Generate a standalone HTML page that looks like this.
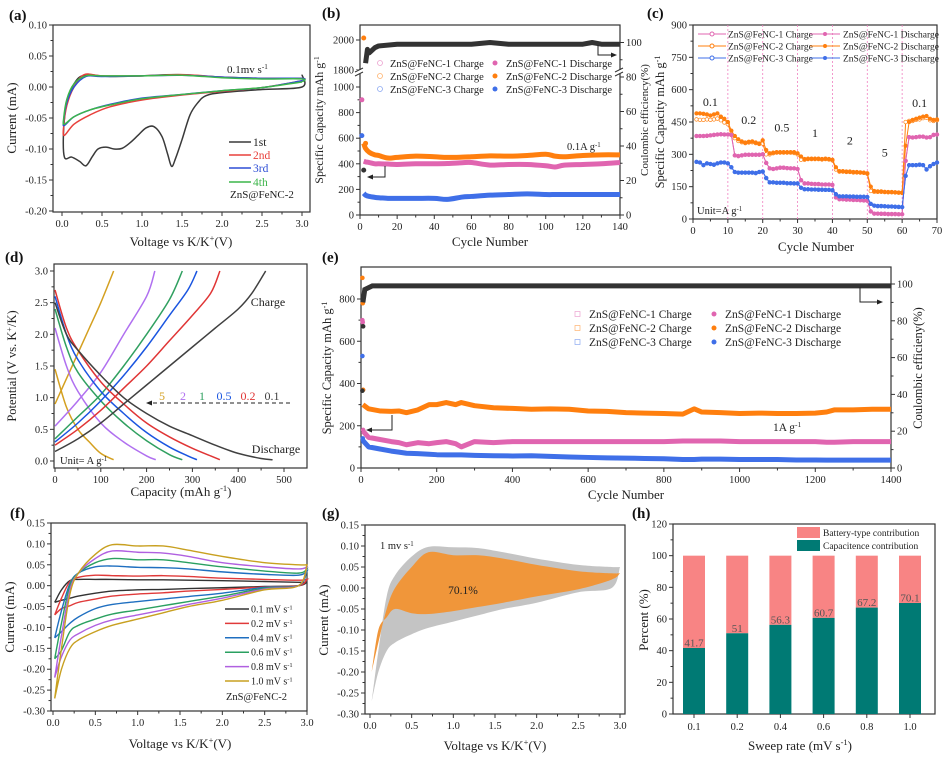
<!DOCTYPE html>
<html><head><meta charset="utf-8"><title>ZnS@FeNC electrochemistry figure</title>
<style>
html,body{margin:0;padding:0;background:#fff;}
svg{display:block;font-family:"Liberation Serif",serif;}
</style></head>
<body>
<svg id="fig" width="942" height="757" viewBox="0 0 942 757" xmlns="http://www.w3.org/2000/svg"></svg>
<script>
// ---------------- DATA ----------------
const aCycle1=[[3.0,0.02],[3.0,0.0],[2.5,-0.004],[2.0,-0.009],[1.8,-0.014],[1.7,-0.025],[1.6,-0.045],[1.5,-0.085],[1.42,-0.115],[1.37,-0.128],[1.32,-0.108],[1.25,-0.08],[1.15,-0.064],[1.05,-0.066],[0.95,-0.078],[0.85,-0.09],[0.75,-0.099],[0.65,-0.1],[0.55,-0.097],[0.45,-0.1],[0.38,-0.112],[0.3,-0.127],[0.22,-0.12],[0.12,-0.113],[0.03,-0.113],[0.02,-0.07],[0.06,-0.025],[0.15,0.005],[0.28,0.019],[0.6,0.017],[1.0,0.018],[1.45,0.02],[2.0,0.016],[2.5,0.014],[3.0,0.014]];
const aCycle2=[[3.0,0.01],[2.5,-0.001],[2.0,-0.007],[1.5,-0.013],[1.0,-0.021],[0.6,-0.032],[0.35,-0.045],[0.15,-0.06],[0.03,-0.078],[0.02,-0.065],[0.06,-0.03],[0.15,0.0],[0.28,0.02],[0.5,0.018],[1.0,0.018],[1.5,0.02],[2.0,0.016],[2.5,0.014],[3.0,0.014],[3.0,0.01]];
const aCycle3=[[3.0,0.01],[2.5,-0.001],[2.0,-0.006],[1.5,-0.012],[1.0,-0.018],[0.6,-0.028],[0.35,-0.037],[0.15,-0.048],[0.03,-0.062],[0.02,-0.055],[0.06,-0.025],[0.15,0.0],[0.3,0.017],[0.5,0.017],[1.0,0.018],[1.5,0.019],[2.0,0.016],[2.5,0.014],[3.0,0.014],[3.0,0.01]];
const aCycle4=[[3.0,0.008],[2.5,-0.001],[2.0,-0.006],[1.5,-0.012],[1.0,-0.019],[0.6,-0.029],[0.35,-0.037],[0.15,-0.048],[0.03,-0.06],[0.02,-0.052],[0.06,-0.02],[0.15,0.005],[0.3,0.018],[0.5,0.018],[1.0,0.018],[1.5,0.019],[2.0,0.015],[2.5,0.013],[3.0,0.013],[3.0,0.008]];

const bCycles=[2,3,5,8,10,15,20,30,40,47,55,60,70,80,90,100,105,110,120,130,140];
const bOrange=[560,520,490,470,465,445,450,460,455,450,452,455,462,460,465,475,460,455,465,470,470];
const bPink=[420,415,410,400,400,398,395,400,400,402,408,410,390,395,395,385,375,390,395,400,410];
const bBlue=[170,155,145,138,135,130,130,130,130,122,140,145,155,160,165,160,160,160,160,160,160];
const bCECycles=[2,3,4,5,8,10,20,40,60,70,80,100,120,125,130,140];
const bCE=[26,88,96,94,97,98,99,99,99,100,99,99,99,100,99,99];

const cOrangeD=[490,490,488,485,480,485,490,475,465,450,410,385,370,360,355,358,360,355,350,365,320,305,308,310,310,310,310,310,310,305,290,278,280,280,280,280,278,280,278,275,240,222,222,220,220,218,218,216,215,212,150,130,128,128,126,125,125,124,123,122,340,450,460,465,470,475,478,465,460,462];
const cOrangeC=[462,460,460,462,460,462,466,458,448,440,395,375,362,356,352,355,356,352,348,350,300,300,305,308,308,308,308,308,306,300,275,275,278,278,278,278,276,278,276,272,230,220,220,218,218,216,216,215,214,210,130,126,126,126,125,124,124,123,122,121,450,455,455,460,462,468,470,458,455,458];
const cPinkD=[385,385,385,386,388,390,392,393,392,392,390,295,292,295,298,298,298,298,298,300,260,235,232,235,238,238,236,235,235,232,180,165,165,163,162,162,160,160,160,158,100,92,92,90,90,88,88,87,86,85,35,25,25,24,24,23,23,23,22,22,270,380,378,380,382,382,378,380,390,392];
const cBlueD=[265,262,250,258,255,252,258,262,262,258,240,218,215,215,215,215,215,213,218,220,190,170,170,168,168,168,166,166,165,165,145,138,138,137,137,136,136,135,135,133,115,105,105,105,104,104,103,103,103,102,70,62,60,60,59,58,58,57,56,55,200,250,250,250,252,250,230,245,255,262];
const cRateLabels=["0.1","0.2","0.5","1","2","5","0.1"];
const cRateCycles=[5,16,25.5,35,45,55,65];
const cRateValues=[525,440,405,380,345,290,520];

const dRates=["5","2","1","0.5","0.2","0.1"];
const dCharge=[
 [[0,0.9],[25,1.3],[50,1.7],[75,2.1],[100,2.5],[128,3.0]],
 [[0,0.55],[50,0.95],[100,1.4],[150,2.0],[200,2.6],[218,3.0]],
 [[0,0.35],[50,0.7],[100,1.05],[150,1.5],[200,2.0],[250,2.55],[278,3.0]],
 [[0,0.3],[50,0.6],[100,0.95],[150,1.35],[200,1.8],[250,2.3],[290,2.7],[310,3.0]],
 [[0,0.25],[50,0.5],[100,0.8],[150,1.15],[200,1.5],[250,1.9],[300,2.3],[340,2.65],[360,3.0]],
 [[0,0.15],[50,0.35],[100,0.6],[150,0.9],[200,1.2],[250,1.5],[300,1.8],[350,2.1],[400,2.4],[430,2.65],[460,3.0]]];
const dDischarge=[
 [[0,1.45],[25,0.85],[50,0.5],[75,0.3],[100,0.12],[128,0.02]],
 [[0,2.1],[25,1.5],[50,1.1],[100,0.6],[150,0.3],[200,0.08],[220,0.02]],
 [[0,2.4],[25,1.8],[50,1.4],[100,0.95],[150,0.6],[200,0.32],[250,0.1],[278,0.02]],
 [[0,2.6],[25,2.0],[50,1.6],[100,1.1],[150,0.75],[200,0.45],[250,0.22],[290,0.08],[310,0.02]],
 [[0,2.7],[25,2.1],[50,1.75],[100,1.25],[150,0.9],[200,0.6],[250,0.38],[300,0.2],[340,0.08],[360,0.02]],
 [[0,2.5],[25,2.0],[50,1.75],[100,1.35],[150,1.0],[200,0.75],[250,0.55],[300,0.4],[350,0.25],[400,0.12],[450,0.04],[475,0.02]]];

const eCycles=[5,20,50,80,100,120,150,180,200,225,250,265,300,350,400,450,500,550,600,650,700,750,800,850,880,900,950,1000,1050,1100,1150,1200,1230,1250,1300,1350,1400];
const eOrange=[300,280,270,268,270,262,275,300,300,310,300,310,295,285,282,278,280,278,270,268,262,260,258,255,280,265,262,258,260,258,258,260,265,275,275,278,278];
const ePink=[175,145,135,125,120,110,120,115,120,125,115,100,125,120,125,125,125,125,125,125,125,125,125,128,128,128,128,125,125,125,125,125,122,122,125,125,125];
const eBlue=[130,100,90,80,75,70,68,65,63,62,62,62,60,58,57,58,55,52,50,48,47,45,44,40,40,42,42,40,40,40,38,38,37,37,37,37,37];
const eEarlyCycles=[1,2,3];
const eEarlyOrange=[900,780,370];
const eEarlyPink=[700,690,180];
const eEarlyBlue=[530,140,130];
const eCECycles=[1,3,5,10,30,100,200,300,400,500,600,700,800,900,1000,1100,1200,1300,1400];
const eCE=[42,77,90,97,99,99,99,99,99,99,99,99,99,99,99,99,99,99,99];

const fV=[0.02,0.1,0.2,0.3,0.5,0.7,1.0,1.3,1.6,2.0,2.5,2.9,3.0];
const fRates=["0.1","0.2","0.4","0.6","0.8","1.0"];
const fUpper=[
 [-0.04,-0.01,0.012,0.015,0.015,0.015,0.014,0.014,0.013,0.012,0.01,0.008,0.008],
 [-0.07,-0.03,0.01,0.02,0.025,0.024,0.023,0.024,0.022,0.018,0.015,0.013,0.015],
 [-0.125,-0.06,0.005,0.03,0.045,0.047,0.044,0.043,0.04,0.033,0.027,0.025,0.035],
 [-0.175,-0.09,0.0,0.03,0.055,0.065,0.062,0.062,0.055,0.045,0.035,0.03,0.04],
 [-0.22,-0.12,-0.01,0.03,0.065,0.083,0.08,0.078,0.07,0.055,0.045,0.04,0.045],
 [-0.27,-0.15,-0.02,0.03,0.075,0.098,0.095,0.095,0.085,0.07,0.055,0.05,0.05]];
const fLower=[
 [-0.04,-0.035,-0.03,-0.025,-0.018,-0.013,-0.01,-0.009,-0.007,-0.005,-0.002,0.0,0.008],
 [-0.07,-0.055,-0.048,-0.04,-0.032,-0.025,-0.02,-0.017,-0.013,-0.009,-0.003,0.0,0.015],
 [-0.125,-0.11,-0.09,-0.075,-0.055,-0.045,-0.038,-0.032,-0.026,-0.018,-0.004,0.0,0.035],
 [-0.175,-0.155,-0.11,-0.095,-0.08,-0.068,-0.058,-0.048,-0.038,-0.025,-0.006,0.0,0.04],
 [-0.22,-0.17,-0.13,-0.115,-0.095,-0.082,-0.07,-0.058,-0.045,-0.03,-0.008,0.0,0.045],
 [-0.27,-0.2,-0.15,-0.13,-0.11,-0.095,-0.08,-0.065,-0.05,-0.035,-0.01,0.0,0.05]];

const gTotalUpper=[-0.27,-0.15,-0.02,0.03,0.075,0.098,0.097,0.095,0.085,0.07,0.055,0.05,0.05];
const gTotalLower=[-0.27,-0.2,-0.15,-0.13,-0.11,-0.095,-0.08,-0.065,-0.05,-0.035,-0.01,0.0,0.05];
const gCapUpper=[-0.2,-0.13,-0.05,0.0,0.05,0.085,0.078,0.078,0.07,0.055,0.04,0.035,0.035];
const gCapLower=[-0.2,-0.1,-0.07,-0.05,-0.06,-0.062,-0.055,-0.045,-0.035,-0.02,-0.003,0.02,0.035];

const hRates=["0.1","0.2","0.4","0.6","0.8","1.0"];
const hCap=[41.7,51,56.3,60.7,67.2,70.1];
const hCapLabels=["41.7","51","56.3","60.7","67.2","70.1"];

// ---------------- HELPERS ----------------
const NS='http://www.w3.org/2000/svg';
const svg=document.getElementById('fig');
function mk(tag,attrs,parent){const e=document.createElementNS(NS,tag);for(const k in attrs)e.setAttribute(k,attrs[k]);(parent||svg).appendChild(e);return e;}
function lin(d0,d1,r0,r1){return v=>r0+(v-d0)*(r1-r0)/(d1-d0);}
function rich(t,str){
  const re=/\^\{([^}]*)\}/g;let last=0,m;
  while((m=re.exec(str))){
    if(m.index>last){const s=mk('tspan',{},t);s.textContent=str.slice(last,m.index);}
    const s=mk('tspan',{'baseline-shift':'super','font-size':'65%'},t);s.textContent=m[1];
    last=re.lastIndex;
  }
  if(last<str.length){const s=mk('tspan',{},t);s.textContent=str.slice(last);}
}
function txt(p,x,y,str,size,anchor,rot,fill,weight){
  const a={x:x,y:y,'font-size':size,'text-anchor':anchor||'start',fill:fill||'#222'};
  if(rot)a.transform='rotate('+rot+' '+x+' '+y+')';
  if(weight)a['font-weight']=weight;
  const t=mk('text',a,p);rich(t,str);return t;
}
function smooth(pts){
  if(pts.length<3)return 'M'+pts.map(p=>p.join(',')).join('L');
  let d='M'+pts[0][0]+','+pts[0][1];
  for(let i=0;i<pts.length-1;i++){
    const p0=pts[i-1]||pts[i],p1=pts[i],p2=pts[i+1],p3=pts[i+2]||p2;
    const c1=[p1[0]+(p2[0]-p0[0])/6,p1[1]+(p2[1]-p0[1])/6];
    const c2=[p2[0]-(p3[0]-p1[0])/6,p2[1]-(p3[1]-p1[1])/6];
    d+='C'+c1.join(',')+' '+c2.join(',')+' '+p2.join(',');
  }
  return d;
}
function frame(p,x0,y0,x1,y1){
  const r=mk('rect',{x:x0,y:y0,width:x1-x0,height:y1-y0,fill:'none',stroke:'#333','stroke-width':1.2},p);
  
  
}
function yTicks(p,sy,vals,x,fmt,side,minor){
  const dir=side==='right'?1:-1;
  vals.forEach((v,i)=>{
    const y=sy(v);
    mk('line',{x1:x,x2:x+dir*4,y1:y,y2:y,stroke:'#333','stroke-width':1},p);
    const t=txt(p,x+dir*6,y+3.5,fmt(v),10.5,side==='right'?'start':'end');
    
    
    if(minor&&i<vals.length-1){const ym=sy((v+vals[i+1])/2);mk('line',{x1:x,x2:x+dir*2.5,y1:ym,y2:ym,stroke:'#333'},p);}
  });
}
function xTicks(p,sx,vals,y,fmt,minor){
  vals.forEach((v,i)=>{
    const x=sx(v);
    mk('line',{x1:x,x2:x,y1:y,y2:y+4,stroke:'#333','stroke-width':1},p);
    const t=txt(p,x,y+15,fmt(v),10.5,'middle');
    
    
    if(minor&&i<vals.length-1){const xm=sx((v+vals[i+1])/2);mk('line',{x1:xm,x2:xm,y1:y,y2:y+2.5,stroke:'#333'},p);}
  });
}
function range(a,b,s){const r=[];for(let v=a;v<=b+1e-9;v+=s)r.push(+v.toFixed(4));return r;}
const f2=v=>v.toFixed(2), f1=v=>v.toFixed(1), f0=v=>String(Math.round(v));
function group(name){const g=mk('g',{});return g;}
function panelLabel(p,x,y,s){const t=txt(p,x,y,s,15,'start',0,'#111','bold');}
function yTitle(p,x,y,s,size){const t=txt(p,x,y,s,size||13,'middle',-90);return t;}
function xTitle(p,x,y,s,size){const t=txt(p,x,y,s,size||13,'middle');return t;}
function arrowHead(p,x,y,dir){
  const d=dir==='left'?`M${x},${y}l6,-2.5v5z`:`M${x},${y}l-6,-2.5v5z`;
  mk('path',{d:d,fill:'#222'},p);
}

// ---------------- (a) ----------------
(function(){
  const g=group('panel-a-cv-cycles');
  const sx=lin(0,3,62,302), sy=lin(-0.2,0.1,211,25);
  frame(g,53,25,310,212);
  yTicks(g,sy,range(-0.2,0.1,0.05),53,f2,'left',true);
  xTicks(g,sx,range(0,3,0.5),212,f1,true);
  const series=[[aCycle1,'#3a3a3a','1st'],[aCycle2,'#e8413c','2nd'],[aCycle3,'#2f4fd6','3rd'],[aCycle4,'#3cb54a','4th']];
  series.forEach((s,i)=>{
    const path=mk('path',{d:smooth(s[0].map(p=>[sx(p[0]),sy(p[1])])),fill:'none',stroke:s[1],'stroke-width':1.5},g);
    
    
    const ly=[142,155,168,182][i];
    const ll=mk('line',{x1:229,x2:251,y1:ly,y2:ly,stroke:s[1],'stroke-width':1.6},g);
    
    
    const lt=txt(g,253,ly+4,s[2],11.5,'start',0,i===0?'#222':s[1]);
    
    
  });
  const n=txt(g,230,198,'ZnS@FeNC-2',11);
  const r=txt(g,227,73,'0.1mv s^{-1}',11);
  yTitle(g,16,118,'Current (mA)');
  xTitle(g,181,246,'Voltage vs K/K^{+}(V)');
  panelLabel(g,9,20,'(a)');
})();

// ---------------- (b) ----------------
(function(){
  const g=group('panel-b-cycling');
  const sx=lin(0,140,360,620), sy=lin(0,1000,215,87), sy2=lin(1800,2000,70,40), syr=lin(0,100,215,42.5);
  frame(g,360,25,620,215);
  yTicks(g,sy,range(0,1000,200),360,f0,'left',true);
  yTicks(g,sy2,[1800,2000],360,f0,'left',false);
  yTicks(g,syr,range(0,100,20),620,f0,'right',true);
  xTicks(g,sx,range(0,140,20),215,f0,true);
  [360,620].forEach(x=>{
    mk('rect',{x:x-4,y:70,width:8,height:4,fill:'#fff'},g);
    mk('line',{x1:x-5,x2:x+3,y1:72,y2:68,stroke:'#333'},g);
    mk('line',{x1:x-5,x2:x+3,y1:76,y2:72,stroke:'#333'},g);
  });
  const ser=[[bOrange,'#ff7f0e','orange'],[bPink,'#e065b0','pink'],[bBlue,'#3f6fe8','blue']];
  ser.forEach(s=>{
    const pl=mk('path',{d:smooth(bCycles.map((c,i)=>[sx(c),sy(s[0][i])])),fill:'none',stroke:s[1],'stroke-width':5,'stroke-linejoin':'round'},g);
    
    
  });
  const early=[[1,900,'#e065b0'],[1,620,'#3f6fe8'],[3,560,'#ff7f0e']];
  early.forEach(e=>{const c=mk('circle',{cx:sx(e[0]),cy:sy(e[1]),r:2.5,fill:e[2]},g);});
  const o=mk('circle',{cx:sx(2),cy:38,r:2.5,fill:'#ff7f0e'},g);
  const cePts=bCECycles.map((c,i)=>[sx(c),syr(bCE[i])]);
  const cep=mk('path',{d:'M'+cePts.slice(1).map(p=>p.join(',')).join('L'),fill:'none',stroke:'#333','stroke-width':5,'stroke-linejoin':'round'},g);
  
  
  const c0=mk('circle',{cx:cePts[0][0],cy:cePts[0][1],r:2.5,fill:'#333'},g);
  const leg=[['ZnS@FeNC-1 Charge','ZnS@FeNC-1 Discharge','#e065b0'],['ZnS@FeNC-2 Charge','ZnS@FeNC-2 Discharge','#ff7f0e'],['ZnS@FeNC-3 Charge','ZnS@FeNC-3 Discharge','#3f6fe8']];
  leg.forEach((l,i)=>{
    const y=63+i*13;
    mk('circle',{cx:380,cy:y,r:2.5,fill:'none',stroke:l[2],'stroke-width':0.8,opacity:0.6},g);
    const t1=txt(g,390,y+4,l[0],10.5);
    mk('circle',{cx:495,cy:y,r:2.5,fill:l[2]},g);
    const t2=txt(g,506,y+4,l[1],10.5);
  });
  const r=txt(g,567,150,'0.1A g^{-1}',10.5);
  mk('path',{d:'M385,166V177H370',fill:'none',stroke:'#222'},g);arrowHead(g,367,177,'left');
  mk('path',{d:'M598,45V55H612',fill:'none',stroke:'#222'},g);arrowHead(g,617,55,'right');
  yTitle(g,323,120,'Specific Capacity mAh g^{-1}',12);
  yTitle(g,648,120,'Coulombic efficiency(%)',11);
  xTitle(g,490,246,'Cycle Number');
  panelLabel(g,322,18,'(b)');
})();

// ---------------- (c) ----------------
(function(){
  const g=group('panel-c-rate');
  const sx=lin(0,70,693,937), sy=lin(0,900,219,25);
  mk('rect',{x:693,y:25,width:244,height:194,fill:'#fff'},g);
  frame(g,693,25,937,219);
  yTicks(g,sy,range(0,900,150),693,f0,'left',true);
  xTicks(g,sx,range(0,70,10),219,f0,true);
  [10,20,30,40,50,60].forEach(c=>{const l=mk('line',{x1:sx(c),x2:sx(c),y1:25,y2:219,stroke:'#f080c0','stroke-width':0.8,'stroke-dasharray':'2,2'},g);});
  const ser=[[cOrangeC,'#ff7f0e',false,'orange-charge'],[cOrangeD,'#ff7f0e',true,'orange-discharge'],[cPinkD,'#e065b0',false,'pink-charge'],[cPinkD,'#e065b0',true,'pink-discharge'],[cBlueD,'#3f6fe8',false,'blue-charge'],[cBlueD,'#3f6fe8',true,'blue-discharge']];
  ser.forEach(s=>{
    const pts=s[0].map((v,i)=>[sx(i+1),sy(v)]);
    const pl=mk('polyline',{points:pts.map(p=>p.join(',')).join(' '),fill:'none',stroke:s[1],'stroke-width':1},g);
    
    
    pts.forEach(p=>{const c=mk('circle',{cx:p[0],cy:p[1],r:1.8,fill:s[2]?s[1]:'#fff',stroke:s[1],'stroke-width':0.7},g);});
  });
  cRateLabels.forEach((l,i)=>{const t=txt(g,sx(cRateCycles[i]),sy(cRateValues[i]),l,12,'middle');});
  const u=txt(g,697,214,'Unit=A g^{-1}',10.5);
  const leg=[['ZnS@FeNC-1','#e065b0'],['ZnS@FeNC-2','#ff7f0e'],['ZnS@FeNC-3','#3f6fe8']];
  leg.forEach((l,i)=>{
    const y=34+i*12;
    mk('line',{x1:698,x2:726,y1:y,y2:y,stroke:l[1]},g);
    mk('circle',{cx:712,cy:y,r:2,fill:'#fff',stroke:l[1]},g);
    const t1=txt(g,728,y+3.5,l[0]+' Charge',9.5);
    mk('line',{x1:810,x2:840,y1:y,y2:y,stroke:l[1]},g);
    mk('circle',{cx:825,cy:y,r:2,fill:l[1]},g);
    const t2=txt(g,843,y+3.5,l[0]+' Discharge',9.5);
  });
  yTitle(g,664,122,'Specific Capacity mAh g^{-1}',12.5);
  xTitle(g,816,251,'Cycle Number');
  panelLabel(g,647,18,'(c)');
})();

// ---------------- (d) ----------------
(function(){
  const g=group('panel-d-gcd');
  const sx=lin(0,500,55,284), sy=lin(0,3,461,271);
  frame(g,54,264,307,468);
  yTicks(g,sy,range(0,3,0.5),54,f1,'left',true);
  xTicks(g,sx,range(0,500,100),468,f0,true);
  const cols=['#d4a020','#b070f0','#30a060','#1a55e0','#e03535','#404040'];
  dRates.forEach((r,i)=>{
    const a=mk('path',{d:smooth(dCharge[i].map(p=>[sx(p[0]),sy(p[1])])),fill:'none',stroke:cols[i],'stroke-width':1.5},g);
    
    
    const b=mk('path',{d:smooth(dDischarge[i].map(p=>[sx(p[0]),sy(p[1])])),fill:'none',stroke:cols[i],'stroke-width':1.5},g);
    
    
    const lx=[162,183,202,224,248,272][i];
    const t=txt(g,lx,400,r,12,'middle',0,cols[i]);
    
    
  });
  mk('line',{x1:290,x2:152,y1:403,y2:403,stroke:'#222','stroke-dasharray':'4,3'},g);
  arrowHead(g,146,403,'left');
  const c=txt(g,268,306,'Charge',12,'middle');
  const d=txt(g,276,453,'Discharge',12,'middle');
  const u=txt(g,60,464,'Unit= A g^{-1}',10.5);
  yTitle(g,16,366,'Potential (V vs. K^{+}/K)',12.5);
  xTitle(g,181,496,'Capacity (mAh g^{-1})');
  panelLabel(g,5,262,'(d)');
})();

// ---------------- (e) ----------------
(function(){
  const g=group('panel-e-long-cycling');
  const sx=lin(0,1400,361,891), sy=lin(0,800,468,299), syr=lin(0,100,468,284);
  frame(g,361,267,891,468);
  yTicks(g,sy,range(0,800,200),361,f0,'left',true);
  yTicks(g,syr,range(0,100,20),891,f0,'right',true);
  xTicks(g,sx,range(0,1400,200),468,f0,true);
  const ser=[[eOrange,eEarlyOrange,'#ff7f0e','orange'],[ePink,eEarlyPink,'#e065b0','pink'],[eBlue,eEarlyBlue,'#3f6fe8','blue']];
  ser.forEach(s=>{
    const pl=mk('polyline',{points:eCycles.map((c,i)=>sx(c)+','+sy(s[0][i])).join(' '),fill:'none',stroke:s[2],'stroke-width':5,'stroke-linejoin':'round'},g);
    
    
    eEarlyCycles.forEach((c,i)=>{const d=mk('circle',{cx:sx(c)+1,cy:sy(s[1][i]),r:2.3,fill:s[2]},g);});
  });
  const ce=mk('polyline',{points:eCECycles.slice(2).map((c,i)=>sx(c)+','+syr(eCE[i+2])).join(' '),fill:'none',stroke:'#333','stroke-width':5},g);
  
  
  [0,1].forEach(i=>{const d=mk('circle',{cx:sx(eCECycles[i])+1,cy:syr(eCE[i]),r:2.3,fill:'#333'},g);});
  const leg=[['ZnS@FeNC-1','#e065b0'],['ZnS@FeNC-2','#ff7f0e'],['ZnS@FeNC-3','#3f6fe8']];
  leg.forEach((l,i)=>{
    const y=314+i*14;
    mk('rect',{x:575,y:y-2.5,width:5,height:5,fill:'none',stroke:l[1],'stroke-width':0.7,opacity:0.6},g);
    const t1=txt(g,589,y+4,l[0]+' Charge',11.5);
    mk('circle',{cx:714,cy:y,r:2.5,fill:l[1]},g);
    const t2=txt(g,725,y+4,l[0]+' Discharge',11.5);
  });
  const r=txt(g,773,431,'1A g^{-1}',11.5);
  mk('path',{d:'M392,415V430H372',fill:'none',stroke:'#222'},g);arrowHead(g,366,430,'left');
  mk('path',{d:'M860,287V302H877',fill:'none',stroke:'#222'},g);arrowHead(g,883,302,'right');
  yTitle(g,331,368,'Specific Capacity mAh g^{-1}',12.5);
  yTitle(g,922,368,'Coulombic efficieny(%)',12.5);
  xTitle(g,626,499,'Cycle Number');
  panelLabel(g,322,262,'(e)');
})();

// ---------------- (f) ----------------
(function(){
  const g=group('panel-f-cv-rates');
  const sx=lin(0,3,53,307), sy=lin(-0.3,0.15,711,523);
  frame(g,51,523,307,711);
  yTicks(g,sy,range(-0.3,0.15,0.05),51,f2,'left',true);
  xTicks(g,sx,range(0,3,0.5),711,f1,true);
  const cols=['#333333','#e03a3a','#1f6fc0','#2aa060','#b060e0','#c8a020'];
  fRates.forEach((r,i)=>{
    const up=fV.map((v,j)=>[sx(v),sy(fUpper[i][j])]);
    const lo=fV.map((v,j)=>[sx(v),sy(fLower[i][j])]).reverse();
    const p=mk('path',{d:smooth(up)+' '+smooth(lo).replace('M','L'),fill:'none',stroke:cols[i],'stroke-width':1.4},g);
    
    
    const ly=609+i*14.4;
    mk('line',{x1:225,x2:249,y1:ly,y2:ly,stroke:cols[i],'stroke-width':1.5},g);
    const t=txt(g,251,ly+3.5,r+' mV s^{-1}',10);
    
    
  });
  const n=txt(g,226,700,'ZnS@FeNC-2',10.5);
  yTitle(g,14,617,'Current (mA)');
  xTitle(g,180,748,'Voltage vs K/K^{+}(V)');
  panelLabel(g,10,518,'(f)');
})();

// ---------------- (g) ----------------
(function(){
  const g=group('panel-g-capacitive');
  const sx=lin(0,3,370,620), sy=lin(-0.3,0.15,714,525);
  frame(g,365,525,625,714);
  yTicks(g,sy,range(-0.3,0.15,0.05),365,f2,'left',true);
  xTicks(g,sx,range(0,3,0.5),714,f1,true);
  const up=fV.map((v,j)=>[sx(v),sy(gTotalUpper[j])]);
  const lo=fV.map((v,j)=>[sx(v),sy(gTotalLower[j])]).reverse();
  const tot=mk('path',{d:smooth(up)+' '+smooth(lo).replace('M','L')+'Z',fill:'#c4c4c4',stroke:'none'},g);
  
  
  const cu=fV.map((v,j)=>[sx(v),sy(gCapUpper[j])]);
  const cl=fV.map((v,j)=>[sx(v),sy(gCapLower[j])]).reverse();
  const cap=mk('path',{d:smooth(cu)+' '+smooth(cl).replace('M','L')+'Z',fill:'#f0963a',stroke:'none'},g);
  
  
  const p=txt(g,463,594,'70.1%',11.5,'middle');
  const r=txt(g,380,549,'1 mv s^{-1}',10.5);
  yTitle(g,328,620,'Current (mA)');
  xTitle(g,495,750,'Voltage vs K/K^{+}(V)');
  panelLabel(g,322,518,'(g)');
})();

// ---------------- (h) ----------------
(function(){
  const g=group('panel-h-contribution');
  const sy=lin(0,120,714,524), bx=i=>694+i*43.2;
  frame(g,673,524,935,714);
  yTicks(g,sy,range(0,120,20),673,f0,'left',true);
  hRates.forEach((r,i)=>{
    const x=bx(i);
    const top=mk('rect',{x:x-11,y:sy(100),width:22,height:sy(hCap[i])-sy(100),fill:'#f88484'},g);
    
    
    const bot=mk('rect',{x:x-11,y:sy(hCap[i]),width:22,height:sy(0)-sy(hCap[i]),fill:'#007a74'},g);
    
    
    const v=txt(g,x,sy(hCap[i])-1.5,hCapLabels[i],11,'middle',0,'#555');
    
    
    mk('line',{x1:x,x2:x,y1:714,y2:718,stroke:'#333'},g);
    const t=txt(g,x,730,r,10.5,'middle');
    
    
  });
  mk('rect',{x:797,y:527,width:23,height:11,fill:'#f88484'},g);
  const l1=txt(g,823,536,'Battery-type contribution',9.5);
  mk('rect',{x:797,y:540,width:23,height:11,fill:'#007a74'},g);
  const l2=txt(g,823,549,'Capacitence contribution',9.5);
  yTitle(g,648,620,'Percent (%)');
  xTitle(g,800,750,'Sweep rate (mV s^{-1})');
  panelLabel(g,632,518,'(h)');
})();
</script>
</body></html>
